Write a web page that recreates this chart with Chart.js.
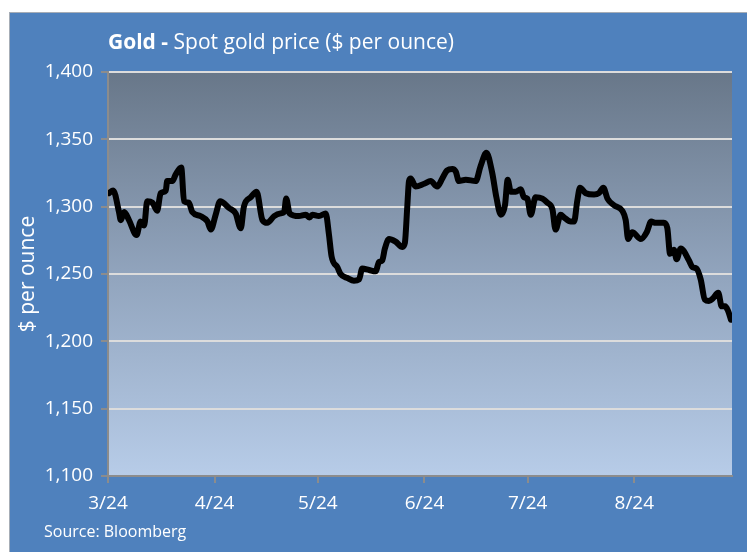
<!DOCTYPE html>
<html>
<head>
<meta charset="utf-8">
<script src="https://cdn.jsdelivr.net/npm/chart.js@4.4.0/dist/chart.umd.min.js"></script>
<style>
  html, body { margin: 0; padding: 0; background: #fff; }
  #panel { position: absolute; left: 9px; top: 12px; width: 738px; height: 540px; background: #4f81bd; border-left: 1px solid #a6adb6; border-top: 1px solid #a6adb6; }
  #wrap { position: absolute; left: 0; top: 0; width: 747px; height: 552px; }
</style>
</head>
<body>
<div id="panel"></div>
<div id="wrap"><canvas id="goldChart"></canvas></div>
<script>
// days since 3/24 and spot gold price
const dayOffsets = [
  0.3, 1.5, 3.2, 3.7, 4.7, 6.1, 8.3, 9.5, 10.5, 11.4, 12.9, 14.3, 15.3, 16.8, 17.2, 18.7, 19.7, 21.3,
  22.1, 23.5, 24.5, 26.9, 28.9, 29.9, 31.3, 32.6, 35.2, 37.1, 38.6, 39.5, 41.5, 43.2, 44.9, 46.3,
  48.3, 50.2, 51.2, 51.8, 52.8, 55.5, 57.5, 58.6, 59.4, 61.3, 63.3, 64.2, 65.0, 66.7, 67.6, 69.6,
  71.5, 73.0, 73.9, 75.9, 77.8, 78.8, 79.7, 80.5, 81.7, 83.6, 85.6, 86.3, 87.0, 87.5, 88.0, 89.4,
  91.9, 93.8, 95.7, 97.2, 98.6, 100.1, 101.1, 102.0, 104.0, 106.9, 108.3, 110.0, 111.7, 112.9,
  114.2, 115.4, 116.2, 117.1, 118.5, 120.0, 120.9, 121.9, 122.9, 124.3, 126.3, 127.7, 129.2,
  130.1, 131.6, 132.6, 134.5, 135.5, 136.4, 137.2, 138.9, 141.3, 142.7, 144.0, 145.2, 147.1,
  149.5, 150.5, 151.2, 152.4, 154.9, 156.6, 157.9, 159.2, 161.6, 162.6, 163.4, 164.5, 165.3,
  166.5, 168.9, 169.9, 171.1, 172.3, 173.5, 174.7, 175.9, 177.4, 178.4, 179.4, 180.2, 181.1
];
const goldPrice = [
  1310, 1312, 1296, 1290, 1296, 1290, 1279, 1289, 1286, 1304, 1303, 1297, 1310, 1312, 1319, 1319, 1324, 1329,
  1304, 1303, 1296, 1293, 1289, 1283, 1294, 1304, 1299, 1295, 1284, 1300, 1307, 1311, 1290, 1288,
  1293, 1295, 1296, 1306, 1295, 1293, 1294, 1292, 1294, 1293, 1295, 1280, 1263, 1255, 1250, 1247,
  1245, 1246, 1254, 1253, 1252, 1259, 1260, 1269, 1276, 1274, 1270, 1273, 1300, 1319, 1321, 1315,
  1317, 1319, 1315, 1321, 1327, 1328, 1326, 1319, 1320, 1319, 1330, 1340, 1325, 1307,
  1294, 1301, 1320, 1311, 1311, 1313, 1307, 1306, 1294, 1307, 1306, 1303, 1298,
  1283, 1294, 1292, 1289, 1289, 1304, 1314, 1310, 1309, 1310, 1314, 1306, 1301,
  1297, 1290, 1276, 1281, 1276, 1281, 1289, 1288, 1288, 1284, 1265, 1268, 1261,
  1269, 1260, 1255, 1254, 1246, 1231, 1230, 1232, 1236, 1226, 1226, 1223, 1216
];

const monthTicks = [0, 31, 61, 92, 122, 153];
const monthLabels = ['3/24', '4/24', '5/24', '6/24', '7/24', '8/24'];
const priceTicks = [1100, 1150, 1200, 1250, 1300, 1350, 1400];

const titleBold = 'Gold -';
const titleRest = ' Spot gold price ($ per ounce)';
const sourceText = 'Source: Bloomberg';

const FONT = "'Open Sans', sans-serif";
Chart.defaults.font.family = FONT;
Chart.defaults.color = '#fff';

// plot area gradient + title/source text
const decor = {
  id: 'decor',
  beforeDraw(chart) {
    const { ctx, chartArea: a } = chart;
    const g = ctx.createLinearGradient(0, a.top, 0, a.bottom);
    g.addColorStop(0, '#687789');
    g.addColorStop(0.5, '#91a4bd');
    g.addColorStop(1, '#b7cce8');
    ctx.save();
    ctx.fillStyle = g;
    ctx.fillRect(a.left, a.top, a.right - a.left, a.bottom - a.top);
    ctx.restore();
  },
  afterDraw(chart) {
    const ctx = chart.ctx;
    ctx.save();
    ctx.fillStyle = '#fff';
    ctx.textBaseline = 'middle';
    ctx.font = 'bold 21px ' + FONT;
    ctx.fillText(titleBold, 108, 43);
    const w = ctx.measureText(titleBold).width;
    ctx.font = '21px ' + FONT;
    ctx.fillText(titleRest, 108 + w, 43);
    ctx.font = '16px ' + FONT;
    ctx.fillText(sourceText, 44, 532);
    ctx.restore();
  }
};

new Chart(document.getElementById('goldChart'), {
  type: 'line',
  data: {
    datasets: [{
      data: dayOffsets.map((d, i) => ({ x: d, y: goldPrice[i] })),
      borderColor: '#000',
      borderWidth: 6,
      pointRadius: 0,
      cubicInterpolationMode: 'monotone',
      borderJoinStyle: 'round',
      borderCapStyle: 'round'
    }]
  },
  options: {
    responsive: true,
    maintainAspectRatio: false,
    animation: false,
    layout: { padding: { top: 72, right: 15, left: 0, bottom: 0 } },
    plugins: { legend: { display: false }, tooltip: { enabled: false } },
    scales: {
      x: {
        type: 'linear',
        min: 0,
        max: 181.4,
        afterBuildTicks: s => { s.ticks = monthTicks.map(v => ({ value: v })); },
        afterFit: s => { s.height = 76; },
        ticks: {
          callback: (v, i) => monthLabels[i],
          font: { size: 19 },
          padding: 9,
          maxRotation: 0
        },
        grid: { drawOnChartArea: false, color: '#8c8c8c', tickLength: 7, lineWidth: 2 },
        border: { color: '#8c8c8c', width: 2 }
      },
      y: {
        min: 1100,
        max: 1400,
        afterBuildTicks: s => { s.ticks = priceTicks.map(v => ({ value: v })); },
        afterFit: s => { s.width = 108; },
        ticks: {
          callback: v => v.toLocaleString('en-US'),
          font: { size: 19 },
          padding: 8
        },
        grid: {
          color: c => c.tick && c.tick.value === 1100 ? 'rgba(0,0,0,0)' : '#dcdcdc',
          tickColor: '#8c8c8c',
          lineWidth: 2,
          tickLength: 7
        },
        border: { color: '#8c8c8c', width: 2 },
        title: {
          display: true,
          text: '$ per ounce',
          font: { size: 21 },
          color: '#fff',
          padding: { top: 15, bottom: 0 }
        }
      }
    }
  },
  plugins: [decor]
});
</script>
</body>
</html>
